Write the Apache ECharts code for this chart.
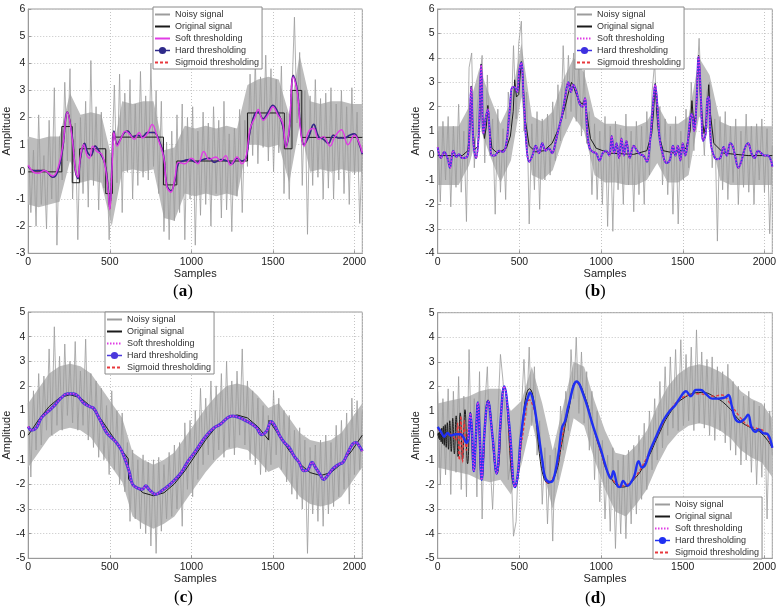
<!DOCTYPE html>
<html>
<head>
<meta charset="utf-8">
<script src="https://cdn.jsdelivr.net/npm/echarts@6/dist/echarts.min.js"></script>
<style>
  html, body { margin: 0; padding: 0; background: #fff; }
  #main { width: 780px; height: 614px; }
</style>
</head>
<body>
<div id="main"></div>
<script>
var STEP = 16;      // sample spacing of the noisy traces
var BAND_STEP = 64; // sample spacing of the dense-noise envelopes
var names = ['Noisy signal', 'Original signal', 'Soft thresholding', 'Hard thresholding', 'Sigmoid thresholding'];

// ---- (a) blocks ----
var noisyA = [
  1.2, -1.5, 0.8, -2.0, 2.1, -1.2, 0.6, -2.1,
  1.9, -1.0, 3.1, -2.7, 1.3, -0.3, 3.3, 0.4,
  3.8, -1.0, 1.8, -2.5, 2.0, -0.8, 2.6, -1.3,
  4.1, -0.5, 2.4, -1.4, 2.2, -0.6, 0.8, -2.5,
  0.3, 3.2, -0.4, 3.6, -1.5, 2.9, 0.0, 3.4,
  -1.0, 2.5, -0.5, 3.7, -0.2, 2.8, -0.3, 4.0,
  0.2, 3.0, -0.8, 2.6, -2.2, 1.1, -2.5, 1.5,
  -1.8, 2.1, -1.5, 2.5, -2.5, 2.0, -1.0, 2.4,
  -2.7, 1.5, -1.6, 2.2, -1.2, 1.8, -2.0, 2.4,
  -0.8, 1.9, -1.7, 2.6, -1.4, 1.4, -2.2, 1.6,
  -0.9, 2.3, -1.5, 1.9, 0.2, 3.6, 0.6, 4.1,
  0.3, 3.5, 0.9, 4.3, 0.4, 3.8, 0.0, 3.4,
  0.7, 3.9, -0.8, 2.2, -1.0, 2.8, 5.7, 1.8,
  4.4, -0.5, 3.0, -2.3, 2.8, -0.5, 3.4, -0.2,
  2.7, -1.0, 2.9, -0.6, 3.1, -1.0, 2.5, -0.3,
  3.0, -0.8, 2.4, -1.2, 3.1, -0.1, 2.2, -1.9,
  1.0
];
var upperA = [1.3, 1.2, 1.3, 1.3, 2.9, 2.1, 2.2, 2.1, 0.5, 2.6, 2.5, 2.6, 2.6, 0.8, 0.9, 1.7,
  1.6, 1.7, 1.6, 1.7, 1.6, 3.2, 3.4, 3.5, 3.4, 2.1, 4.3, 2.6, 2.5, 2.6, 2.6, 2.5, 2.5];
var lowerA = [-1.2, -1.3, -1.2, -1.1, 0.4, -0.4, -0.3, -0.4, -2.0, 0.0, 0.1, 0.0, 0.1, -1.7, -1.8, -0.8,
  -0.9, -0.8, -0.9, -0.8, -0.9, 1.0, 1.0, 0.9, 1.0, -0.4, 1.7, 0.0, 0.1, 0.0, 0.1, 0.0, 0.0];
var origA = [[0,0],[206,1.67],[270,-0.4],[315,0.85],[475,-0.8],[516,1.28],[829,-0.48],[911,0.4],
  [1344,2.17],[1570,0.85],[1617,3.0],[1677,1.27],[2048,1.27]];
var hardA = [[0,0.2],[30,0.05],[100,0.05],[150,-0.2],[180,0],[210,0.8],[240,2.2],[270,1.3],[290,0],[305,-0.25],
  [320,0.5],[345,1.05],[365,0.7],[385,0.6],[410,0.95],[440,0.7],[470,0.3],[490,-0.6],[500,-1.35],[515,0.5],
  [525,1.5],[545,1.0],[565,1.2],[590,1.45],[610,1.5],[640,1.3],[670,1.35],[700,1.3],[730,1.45],[770,1.45],
  [800,1.2],[830,0.6],[850,-0.5],[875,-0.7],[900,-0.3],[920,0.3],[950,0.4],[990,0.45],[1030,0.35],[1070,0.45],
  [1110,0.5],[1140,0.35],[1180,0.45],[1220,0.4],[1250,0.3],[1280,0.5],[1310,0.4],[1335,0.5],[1360,1.5],[1390,2.15],
  [1410,2.2],[1440,1.95],[1470,2.2],[1500,2.45],[1530,2.2],[1560,1.7],[1580,0.95],[1600,1.5],[1625,3.55],[1650,3.0],
  [1670,1.6],[1690,1.0],[1720,1.3],[1750,1.75],[1780,1.3],[1810,1.2],[1840,1.05],[1870,1.35],[1900,1.25],[1940,1.25],
  [1970,1.35],[2000,1.4],[2030,1.0],[2048,0.65]];
var softA = [[0,0.25],[30,0.0],[60,-0.05],[100,0.05],[150,-0.15],[180,0.1],[210,0.9],[240,2.2],[270,1.2],[290,0.05],
  [305,-0.2],[320,0.6],[340,1.0],[360,0.6],[375,0.5],[395,0.95],[420,0.75],[450,0.65],[470,0.25],[490,-0.7],
  [500,-1.4],[515,0.3],[525,1.45],[545,0.95],[570,1.25],[595,1.5],[620,1.4],[650,1.2],[680,1.45],[700,1.25],
  [730,1.4],[760,1.75],[790,1.3],[830,0.55],[850,-0.55],[875,-0.75],[900,-0.2],[920,0.35],[960,0.3],[1000,0.5],
  [1040,0.3],[1076,0.75],[1110,0.45],[1150,0.55],[1180,0.4],[1210,0.6],[1240,0.25],[1280,0.55],[1310,0.3],[1335,0.55],
  [1360,1.6],[1390,2.0],[1410,2.3],[1440,1.9],[1470,2.1],[1500,2.4],[1530,2.1],[1560,1.8],[1580,0.9],[1600,1.6],
  [1625,3.5],[1650,2.9],[1670,1.5],[1690,0.95],[1720,1.5],[1750,1.6],[1780,1.2],[1810,1.3],[1850,0.95],[1880,1.3],
  [1920,1.55],[1960,1.0],[2000,1.35],[2030,1.05],[2048,0.7]];

// ---- (b) bumps ----
var noisyB = [
  1.0, -1.9, 1.4, -1.0, 1.6, -2.1, 1.2, -1.3,
  2.1, -1.5, 1.0, -2.7, 3.6, 4.2, -0.5, 1.8,
  3.0, 4.1, -0.3, 3.3, 0.0, 1.5, -2.4, 1.9,
  -1.5, 1.1, -1.8, 2.6, 1.2, 4.5, 1.5, 4.6,
  5.5, 1.0, 2.6, -2.8, 1.3, -1.4, 1.8, -2.2,
  1.5, -1.0, 1.7, -0.8, 2.2, -0.2, 2.9, 0.6,
  4.5, 1.5, 4.1, 1.8, 4.2, 1.4, 3.8, 0.8,
  3.5, 0.5, 1.8, -1.6, 1.3, -1.8, 1.0, -2.0,
  1.6, -2.9, 1.2, -3.1, 1.4, -1.4, 1.1, -2.0,
  1.7, -1.2, 1.0, -2.3, 1.4, -1.6, 1.2, -2.0,
  1.8, -0.8, 2.6, 3.8, 1.2, 2.0, -1.2, 1.5,
  -1.6, 1.2, -2.4, 1.6, -2.8, 1.0, -1.0, 1.9,
  -0.5, 3.0, 0.2, 2.8, 4.8, 2.0, 0.0, 2.6,
  3.0, -0.5, 1.5, -3.5, 1.6, -1.4, 1.8, -1.8,
  1.2, -1.1, 1.5, -2.0, 1.0, -1.3, 1.7, -1.5,
  1.2, -2.0, 1.3, -1.0, 1.5, -1.5, 1.1, -3.2,
  0.4
];
var upperB = [1.2, 1.2, 1.2, 2.0, 3.6, 2.4, 1.3, 2.2, 4.6, 1.6, 1.4, 1.8, 3.1, 4.0, 3.4, 1.6,
  1.3, 1.3, 1.2, 1.2, 1.4, 2.1, 1.3, 1.3, 1.6, 4.0, 3.3, 1.4, 1.2, 1.2, 1.2, 1.2, 1.2];
var lowerB = [-1.2, -1.2, -1.2, -0.4, 1.2, 0.0, -1.1, -0.2, 2.4, -0.8, -1.0, -0.6, 0.7, 1.6, 1.0, -0.8,
  -1.1, -1.1, -1.2, -1.2, -1.0, -0.3, -1.1, -1.1, -0.8, 1.6, 1.0, -1.0, -1.2, -1.2, -1.2, -1.2, -1.2];
var origB = [[0,0],[150,0],[185,0.2],[197,1.2],[205,2.85],[213,1.2],[228,0.25],[248,0.4],[258,1.6],[266,3.75],
  [274,1.6],[286,0.7],[298,1.2],[307,2.05],[316,1.2],[332,0.3],[365,0.1],[420,0.3],[445,0.8],[462,1.8],
  [471,3.1],[482,2.4],[496,2.5],[505,3.3],[512,3.85],[520,3.3],[535,1.5],[560,0.4],[600,0.15],[650,0.2],
  [700,0.5],[740,1.1],[780,2.0],[805,2.7],[819,3.0],[835,2.75],[860,2.3],[885,2.1],[901,2.3],[915,1.6],
  [935,0.7],[970,0.3],[1050,0.1],[1200,0.05],[1280,0.2],[1310,0.9],[1324,2.0],[1331,2.95],[1338,2.0],[1352,0.9],
  [1380,0.2],[1450,0.1],[1520,0.3],[1545,1.0],[1556,2.25],[1568,1.3],[1582,1.8],[1597,4.1],[1610,2.2],[1630,0.9],
  [1650,1.8],[1659,2.9],[1668,1.8],[1690,0.5],[1750,0.1],[1900,0.0],[2048,0.0]];
var hardB = [[0,0.35],[20,-0.1],[40,0.15],[60,-0.1],[75,-0.5],[95,0.2],[115,-0.05],[130,0.05],[150,-0.1],[180,-0.05],
  [192,0.6],[205,2.8],[218,0.6],[235,-0.1],[252,1.0],[266,3.7],[280,0.9],[293,1.5],[307,1.9],[318,1.0],
  [332,0.0],[350,0.0],[375,0.2],[400,0.15],[420,0.5],[440,1.8],[458,2.8],[471,2.8],[486,2.6],[500,3.5],
  [512,3.8],[525,2.5],[545,0.3],[560,-0.25],[580,0.0],[600,0.4],[620,0.1],[640,0.5],[660,0.2],[680,0.3],
  [700,0.1],[720,0.5],[740,1.1],[760,1.6],[780,2.4],[800,3.0],[815,2.6],[830,2.9],[850,2.6],[870,2.1],
  [888,2.0],[901,2.35],[915,1.0],[930,0.3],[950,0.15],[970,0.1],[990,-0.2],[1010,0.1],[1030,0.2],[1050,0.0],
  [1065,0.8],[1080,0.1],[1095,0.5],[1110,-0.1],[1125,0.7],[1140,0.0],[1155,0.6],[1175,-0.1],[1200,0.4],[1220,0.2],
  [1240,0.05],[1260,0.0],[1280,-0.25],[1300,0.6],[1318,2.1],[1331,2.9],[1344,2.1],[1360,0.6],[1380,0.0],[1400,-0.3],
  [1420,-0.2],[1440,0.4],[1455,0.0],[1470,0.4],[1485,-0.2],[1500,0.5],[1515,0.0],[1530,0.5],[1545,1.5],[1556,1.7],
  [1570,1.0],[1583,2.0],[1597,4.05],[1612,2.2],[1625,0.6],[1640,0.9],[1650,2.3],[1659,2.4],[1672,0.5],[1690,0.0],
  [1710,-0.15],[1730,-0.1],[1750,0.35],[1770,0.0],[1790,0.5],[1805,0.4],[1820,0.0],[1840,-0.5],[1860,-0.2],[1880,0.3],
  [1900,0.5],[1920,0.1],[1940,-0.1],[1960,0.2],[1980,0.1],[2000,0.0],[2020,0.0],[2040,-0.2],[2048,-0.45]];

// ---- (c) heavisine ----
var noisyC = [
  1.3, -1.7, 1.8, -0.6, 2.5, -0.4, 2.4, 0.2,
  3.5, 0.0, 4.4, 0.4, 3.2, 0.2, 3.7, 0.8,
  3.0, 0.5, 3.8, 0.2, 2.6, 0.4, 3.9, -0.2,
  2.5, -0.5, 2.2, -0.9, 1.9, -1.0, 1.2, -1.6,
  1.8, -1.4, 1.0, -2.0, 0.9, -2.3, -0.3, -3.5,
  -0.6, -3.4, -1.0, -3.8, -0.8, -4.0, -1.1, -4.5,
  -1.0, -4.8, -0.9, -3.9, -1.2, -3.4, -0.7, -3.3,
  -0.4, -3.0, -0.3, -3.7, 0.5, -2.2, 0.6, -2.5,
  1.0, -1.8, 1.9, -1.2, 1.5, -0.8, 2.2, -1.0,
  2.0, -0.6, 2.5, -0.9, 3.0, -0.5, 2.2, -0.8,
  2.6, 0.0, 3.5, -0.4, 2.2, -1.0, 1.8, -1.2,
  1.5, -1.6, 1.2, -1.5, 0.8, -1.2, 1.8, -0.8,
  1.5, -1.4, 1.0, -1.9, 0.8, -2.4, 0.2, -2.6,
  0.3, -3.0, -0.2, -4.8, -0.5, -3.2, -0.4, -3.5,
  -0.2, -3.7, 0.0, -3.2, -0.3, -2.9, 0.4, -2.5,
  0.6, -2.2, 0.9, -2.8, 1.5, -1.6, 1.4, -1.4,
  1.0
];
var upperC = [1.3, 1.9, 2.5, 2.8, 2.9, 2.8, 2.5, 1.9, 1.3, 0.7, -0.7, -1.0, -1.2, -1.0, -0.7, -0.1,
  0.5, 1.1, 1.6, 2.0, 2.1, 2.0, 1.6, 1.1, 1.3, 0.7, 0.1, -0.2, -0.3, -0.2, 0.1, 0.7, 1.3];
var lowerC = [-1.3, -0.7, -0.1, 0.2, 0.3, 0.2, -0.1, -0.7, -1.3, -1.9, -3.3, -3.6, -3.8, -3.6, -3.3, -2.7,
  -2.1, -1.5, -1.0, -0.6, -0.5, -0.6, -1.0, -1.5, -1.3, -1.9, -2.5, -2.8, -2.9, -2.8, -2.5, -1.9, -1.3];
var origC = [[0,0],[64,0.63],[128,1.16],[192,1.52],[256,1.64],[320,1.52],[384,1.16],[448,0.63],[512,0],[576,-0.63],
  [613,-0.96],[615,-1.78],[640,-1.98],[704,-2.34],[768,-2.46],[832,-2.34],[896,-1.98],[960,-1.45],[1024,-0.82],[1088,-0.19],
  [1152,0.34],[1216,0.7],[1280,0.82],[1344,0.7],[1408,0.34],[1474,-0.2],[1476,0.6],[1536,0],[1600,-0.63],[1664,-1.16],
  [1728,-1.52],[1792,-1.64],[1856,-1.52],[1920,-1.16],[1984,-0.63],[2048,0]];
var hardC = [[0,0.35],[20,0.2],[50,0.3],[80,0.7],[120,0.95],[160,1.2],[200,1.5],[240,1.68],[280,1.68],[310,1.55],
  [340,1.3],[380,1.15],[400,1.1],[430,0.75],[460,0.35],[480,0.1],[510,-0.1],[540,-0.3],[570,-0.6],[600,-1.1],
  [620,-1.5],[640,-2.0],[670,-2.15],[700,-2.2],[720,-2.05],[740,-2.2],[780,-2.4],[820,-2.25],[860,-2.05],[900,-1.8],
  [940,-1.5],[980,-1.05],[1020,-0.7],[1060,-0.3],[1100,0.05],[1140,0.3],[1180,0.45],[1220,0.7],[1250,0.78],[1290,0.72],
  [1330,0.6],[1370,0.45],[1400,0.3],[1430,0.02],[1460,0.15],[1490,0.55],[1510,0.4],[1540,0.0],[1570,-0.3],[1600,-0.5],
  [1630,-0.85],[1660,-1.1],[1690,-1.45],[1715,-1.4],[1740,-1.1],[1760,-1.3],[1790,-1.6],[1810,-1.8],[1840,-1.6],[1870,-1.35],
  [1900,-1.2],[1930,-1.1],[1960,-0.7],[1990,-0.35],[2010,-0.3],[2030,-0.45],[2048,-0.65]];

// ---- (d) doppler ----
var noisyD = [
  1.8, -2.0, 1.5, -1.6, 1.9, -2.4, 1.8, -1.5,
  2.4, -2.2, 1.6, -2.5, 3.5, -1.0, 1.5, -2.5,
  2.6, -3.4, 1.2, 2.8, -1.0, -3.0, -0.5, 0.8,
  3.3, 2.2, 0.5, -1.8, -1.0, -4.1, -3.5, -0.6,
  1.0, 3.1, 0.8, 3.6, 0.4, 2.8, -0.8, 0.6,
  -2.8, -0.5, -3.6, -0.8, -4.3, -0.5, -1.8, 1.2,
  -0.6, 1.8, 0.2, 3.5, 1.5, 4.0, 0.9, 3.4,
  0.5, 2.6, -0.6, 1.8, -1.8, 1.0, -2.7, -0.2,
  -3.4, -0.8, -3.9, -0.5, -4.6, -1.0, -4.0, -0.8,
  -4.2, -0.6, -3.6, -0.4, -3.2, 0.0, -2.6, 0.5,
  -2.2, 1.0, -1.4, 1.5, -1.0, 2.2, -0.5, 2.8,
  0.0, 3.2, 0.3, 3.5, 0.2, 3.9, 0.4, 3.3,
  0.6, 3.6, 0.2, 4.3, 0.5, 3.4, 0.3, 3.1,
  0.0, 3.2, -0.2, 2.8, 0.2, 2.6, -0.3, 2.9,
  -0.6, 2.2, -0.8, 2.0, -1.2, 1.6, -1.0, 1.8,
  -1.5, 1.4, -2.0, 1.2, -1.7, 1.3, -3.4, 1.0,
  -0.8
];
var upperD = [1.3, 1.4, 1.5, 1.6, 1.8, 1.9, 1.9, 1.0, 1.4, 2.8, 1.3, -0.6, 1.2, 3.0, 2.8, 1.4,
  0.2, -0.7, -0.8, -0.4, 0.2, 1.2, 2.0, 2.5, 2.8, 2.9, 2.8, 2.6, 2.3, 1.8, 1.5, 1.3, 0.7];
var lowerD = [-1.3, -1.4, -1.5, -1.6, -1.8, -1.9, -1.8, -2.4, -1.2, 0.6, -1.3, -3.0, -1.2, 0.7, 0.4, -1.0,
  -2.2, -3.1, -3.3, -2.8, -2.2, -1.2, -0.4, 0.1, 0.4, 0.5, 0.4, 0.2, -0.1, -0.6, -0.9, -1.1, -1.7];
var origD = [[0,0],[4,0.1],[7,-0.12],[10,0.15],[13,-0.18],[17,0.22],[21,-0.26],[25,0.3],[30,-0.33],[35,0.37],
  [40,-0.4],[46,0.44],[52,-0.48],[59,0.52],[66,-0.56],[74,0.6],[83,-0.65],[92,0.7],[102,-0.75],[113,0.8],
  [125,-0.86],[138,0.92],[152,-0.98],[167,1.05],[183,-1.15],[200,0.95],[221,-1.45],[246,1.35],[269,-1.8],[308,1.45],
  [362,-1.55],[407,2.0],[473,-2.1],[562,1.9],[676,-1.95],[720,-1.6],[760,-0.3],[800,1.0],[851,2.2],[900,1.6],
  [950,0.4],[1000,-0.7],[1050,-1.6],[1130,-2.1],[1200,-1.8],[1280,-1.0],[1350,0.0],[1420,0.9],[1500,1.5],[1616,1.75],
  [1700,1.55],[1780,1.15],[1850,0.6],[1920,0.3],[1980,0.1],[2048,-0.5]];
var hardD = [[0,0.35],[20,0.15],[40,-0.05],[60,0.1],[80,0.0],[110,0.05],[140,0.05],[160,-0.1],[175,-0.3],[188,-0.15],
  [200,0.9],[210,0.2],[221,-1.45],[234,0.0],[246,1.35],[257,0.0],[269,-1.8],[288,0.3],[308,1.4],[335,0.0],
  [362,-1.55],[372,-1.0],[385,0.6],[407,2.0],[440,0.3],[473,-2.1],[490,-1.6],[510,0.0],[535,1.2],[550,1.5],
  [565,1.75],[585,1.4],[610,0.4],[640,-1.0],[660,-1.75],[690,-1.9],[710,-1.75],[740,-0.7],[760,0.3],[780,0.6],
  [800,1.2],[851,2.2],[900,1.5],[950,0.4],[1000,-0.6],[1040,-1.5],[1060,-1.75],[1075,-1.45],[1100,-2.05],[1115,-2.1],
  [1135,-1.85],[1160,-2.05],[1200,-1.7],[1230,-1.05],[1250,-1.3],[1270,-1.2],[1300,-0.6],[1340,0.0],[1380,0.6],[1420,1.0],
  [1450,1.2],[1480,1.5],[1520,1.8],[1550,1.6],[1580,1.85],[1610,1.85],[1640,1.7],[1680,1.5],[1720,1.5],[1760,1.55],
  [1780,1.65],[1800,1.2],[1820,0.7],[1845,0.55],[1875,0.65],[1900,0.85],[1920,0.35],[1945,0.15],[1965,0.25],[1990,0.1],
  [2020,0.05],[2048,-0.5]];
var softD = [[188,-0.15],[200,0.9],[210,0.2],[221,-1.45],[234,0.0],[246,1.35],[257,0.0],[269,-1.8],[288,0.3],[308,1.4],
  [335,0.0],[362,-1.55],[372,-1.0],[385,0.6],[407,2.0],[440,0.3],[473,-2.1],[490,-1.6],[510,0.0]];
var sigD = [[0,0.3],[40,0.0],[80,0.05],[110,-0.2],[122,0.5],[132,-1.0],[142,0.8],[152,-1.1],[163,0.6],[175,-0.6],
  [188,0.4],[200,0.9],[221,-1.45],[246,1.35],[269,-1.8],[308,1.4],[362,-1.55],[407,2.0],[473,-2.05],[520,0.0],
  [562,1.45],[600,0.8],[640,-1.0],[676,-1.95],[720,-1.5],[770,0.2],[800,1.2],[851,2.15],[900,1.5],[950,0.4],
  [1000,-0.7],[1050,-1.6],[1130,-2.05],[1200,-1.75],[1280,-0.9],[1350,0.1],[1420,1.0],[1500,1.55],[1600,1.7],[1680,1.6],
  [1740,1.65],[1790,1.3],[1850,0.75],[1900,0.4],[1950,0.3],[2000,0.15],[2048,-0.5]];

var FONT = '"Liberation Sans", Arial, sans-serif';
var hardColors = ['#2e2a8a', '#3d30e0', '#4b38dc', '#1f30f2'];
var hardWidths = [1.6, 2, 3, 2.4];

var panels = [
  { left: 27.7, top: 9, width: 334.6, height: 244.3, ymin: -3, ymax: 6, legend: [153, 7] },
  { left: 437.7, top: 9, width: 334.6, height: 244.3, ymin: -4, ymax: 6, legend: [575, 7] },
  { left: 27.7, top: 312, width: 334.6, height: 246.3, ymin: -5, ymax: 5, legend: [105, 312] },
  { left: 437.7, top: 312.7, width: 334.6, height: 245.6, ymin: -5, ymax: 5, legend: [653, 497] }
];

var sets = [
  { noisy: noisyA, upper: upperA, lower: lowerA, orig: origA, sig: hardA, hard: hardA, soft: softA, softSolid: true, origStep: 'end' },
  { noisy: noisyB, upper: upperB, lower: lowerB, orig: origB, sig: hardB, hard: hardB, soft: hardB },
  { noisy: noisyC, upper: upperC, lower: lowerC, orig: origC, sig: hardC, hard: hardC, soft: hardC },
  { noisy: noisyD, upper: upperD, lower: lowerD, orig: origD, sig: sigD, hard: hardD, soft: softD, origSmooth: 0.5 }
];

function stepPts(arr, step) {
  return arr.map(function (v, i) { return [i * step, v]; });
}

// grey core of the noise: one polygon between the two envelopes
function bandSeries(i, upper, lower) {
  return {
    type: 'custom', xAxisIndex: i, yAxisIndex: i, silent: true, z: 1,
    data: [[0, 0]],
    renderItem: function (params, api) {
      var pts = [];
      upper.forEach(function (v, k) { pts.push(api.coord([k * BAND_STEP, v])); });
      for (var k = lower.length - 1; k >= 0; k--) pts.push(api.coord([k * BAND_STEP, lower[k]]));
      return { type: 'polygon', shape: { points: pts }, style: { fill: '#bdbdbd' } };
    }
  };
}

var grids = [], xAxes = [], yAxes = [], series = [], legends = [];
var noFmt = function (v) { return String(v); };

panels.forEach(function (p, i) {
  grids.push({ left: p.left, top: p.top, width: p.width, height: p.height,
    show: true, borderColor: '#9a9a9a', borderWidth: 1, backgroundColor: '#fff' });
  xAxes.push({
    type: 'value', gridIndex: i, min: 0, max: 2048, interval: 500,
    axisLine: { show: true, onZero: false, lineStyle: { color: '#9a9a9a' } },
    axisTick: { show: true, inside: true, length: 3, lineStyle: { color: '#9a9a9a' } },
    axisLabel: { fontSize: 10.5, color: '#222', margin: 3, fontFamily: FONT, showMaxLabel: false, formatter: noFmt },
    splitLine: { show: true, lineStyle: { color: '#c4c4c4', type: [1, 2] } },
    name: 'Samples', nameLocation: 'middle', nameGap: 13,
    nameTextStyle: { fontSize: 11, color: '#222', fontFamily: FONT }
  });
  yAxes.push({
    type: 'value', gridIndex: i, min: p.ymin, max: p.ymax, interval: 1,
    axisLine: { show: true, onZero: false, lineStyle: { color: '#9a9a9a' } },
    axisTick: { show: true, inside: true, length: 3, lineStyle: { color: '#9a9a9a' } },
    axisLabel: { fontSize: 10.5, color: '#222', margin: 3, fontFamily: FONT, formatter: noFmt },
    splitLine: { show: true, lineStyle: { color: '#c4c4c4', type: [1, 2] } },
    name: 'Amplitude', nameLocation: 'middle', nameGap: 10, nameRotate: 90,
    nameTextStyle: { fontSize: 11, color: '#222', fontFamily: FONT }
  });

  var s = sets[i];
  series.push(bandSeries(i, s.upper, s.lower));
  series.push({
    name: names[0], type: 'line', xAxisIndex: i, yAxisIndex: i, data: stepPts(s.noisy, STEP),
    symbol: 'none', lineStyle: { color: '#9c9c9c', width: 0.8 }, itemStyle: { color: '#9c9c9c' }
  });
  series.push({
    name: names[1], type: 'line', xAxisIndex: i, yAxisIndex: i, data: s.orig,
    step: s.origStep || false, smooth: s.origSmooth || false,
    symbol: 'none', lineStyle: { color: '#1a1a1a', width: 1 }, itemStyle: { color: '#1a1a1a' }
  });
  series.push({
    name: names[4], type: 'line', xAxisIndex: i, yAxisIndex: i, data: s.sig, smooth: 0.4,
    symbol: 'none', lineStyle: { color: '#e8383c', width: 1.3, type: [3, 2] }, itemStyle: { color: '#e8383c' }
  });
  series.push({
    name: names[3], type: 'line', xAxisIndex: i, yAxisIndex: i, data: s.hard, smooth: 0.4,
    symbol: 'circle', symbolSize: 3, showSymbol: false,
    lineStyle: { color: hardColors[i], width: hardWidths[i] }, itemStyle: { color: hardColors[i] }
  });
  series.push({
    name: names[2], type: 'line', xAxisIndex: i, yAxisIndex: i, data: s.soft, smooth: 0.4,
    symbol: 'none', lineStyle: { color: '#e03ce4', width: 1.4, type: s.softSolid ? 'solid' : [1.5, 1.5] },
    itemStyle: { color: '#e03ce4' }
  });

  legends.push({
    left: p.legend[0], top: p.legend[1], orient: 'vertical',
    itemWidth: 15, itemHeight: 9, itemGap: 3, padding: [3, 3, 2, 1],
    backgroundColor: '#fff', borderColor: '#8a8a8a', borderWidth: 1, borderRadius: 0,
    textStyle: { fontSize: 9, color: '#333', fontFamily: FONT },
    itemStyle: { opacity: 0 },
    selectedMode: false,
    data: [
      { name: names[0] },
      { name: names[1] },
      { name: names[2], lineStyle: { type: i === 0 ? 'solid' : [1.5, 1.5] } },
      { name: names[3], itemStyle: { color: hardColors[i], opacity: 1 }, lineStyle: { color: hardColors[i], width: 1.5 } },
      { name: names[4] }
    ]
  });
});

var captions = [['a', 184, 293], ['b', 596, 293], ['c', 185, 599], ['d', 596, 600]];
var graphics = captions.map(function (c) {
  return {
    type: 'text', left: c[1] - 11, top: c[2] - 10,
    style: {
      text: '({b|' + c[0] + '})', fill: '#000',
      font: '17px "Liberation Serif", "Times New Roman", serif',
      rich: { b: { fontWeight: 'bold', fontSize: 17, fontFamily: '"Liberation Serif", serif', fill: '#000' } }
    }
  };
});

var myChart = echarts.init(document.getElementById('main'));
myChart.setOption({
  animation: false,
  backgroundColor: '#fff',
  grid: grids,
  xAxis: xAxes,
  yAxis: yAxes,
  legend: legends,
  series: series,
  graphic: graphics
});
</script>
</body>
</html>
